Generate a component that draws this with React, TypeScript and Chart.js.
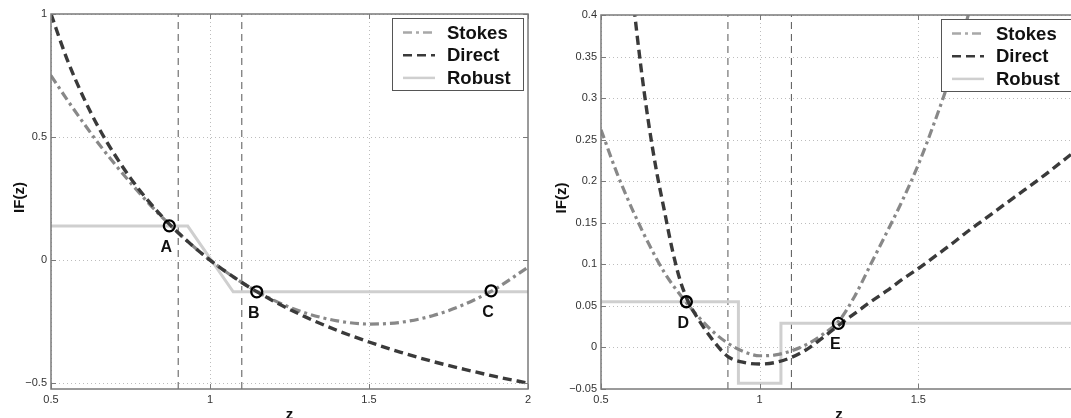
import { useEffect, useRef } from 'react';
import { Chart, registerables } from 'chart.js';

Chart.register(...registerables);

// ---------- shared ----------
const seriesNames = ['Stokes', 'Direct', 'Robust'];
const xTicks = [0.5, 1, 1.5, 2];
const yTicksLeft = [-0.5, 0, 0.5, 1];
const yTicksRight = [-0.05, 0, 0.05, 0.1, 0.15, 0.2, 0.25, 0.3, 0.35, 0.4];
const thresholdZ = [0.9, 1.1];
const xTitle = 'z';
const yTitle = 'IF(z)';

// ---------- left panel ----------
const zLeft = [0.5, 0.55, 0.6, 0.65, 0.7, 0.75, 0.8, 0.85, 0.9, 0.95, 1.0, 1.1, 1.2, 1.3, 1.4, 1.5, 1.6, 1.7, 1.8, 1.9, 2.0];
const stokesLeft = [0.75, 0.653, 0.561, 0.473, 0.391, 0.314, 0.241, 0.173, 0.111, 0.053, 0, -0.091, -0.163, -0.215, -0.247, -0.26, -0.253, -0.226, -0.18, -0.115, -0.029];
const directLeft = [1.0, 0.818, 0.667, 0.538, 0.429, 0.333, 0.25, 0.176, 0.111, 0.053, 0, -0.091, -0.167, -0.231, -0.286, -0.333, -0.375, -0.412, -0.444, -0.474, -0.5];
const robustZLeft = [0.5, 0.93, 1.073, 2.0];
const robustLeft = [0.138, 0.138, -0.129, -0.129];
const markerZLeft = [0.872, 1.147, 1.884];
const markerValLeft = [0.139, -0.129, -0.125];
const markerNamesLeft = ['A', 'B', 'C'];

// ---------- right panel ----------
const stokesZRight = [0.5, 0.55, 0.6, 0.65, 0.7, 0.75, 0.8, 0.85, 0.9, 0.95, 1.0, 1.05, 1.1, 1.15, 1.2, 1.25, 1.3, 1.35, 1.4, 1.45, 1.5, 1.55, 1.6, 1.65, 1.7];
const stokesRight = [0.262, 0.21, 0.165, 0.125, 0.09, 0.063, 0.04, 0.02, 0.005, -0.005, -0.01, -0.009, -0.004, 0.004, 0.016, 0.032, 0.062, 0.1, 0.138, 0.177, 0.22, 0.27, 0.325, 0.39, 0.46];
const directZRight = [0.5, 0.525, 0.55, 0.575, 0.6, 0.625, 0.65, 0.675, 0.7, 0.725, 0.75, 0.775, 0.8, 0.85, 0.9, 0.95, 1.0, 1.05, 1.1, 1.15, 1.2, 1.25, 1.3, 1.35, 1.4, 1.45, 1.5, 1.55, 1.6, 1.65, 1.7, 1.8, 1.9, 2.0];
const directRight = [0.98, 0.799, 0.649, 0.526, 0.424, 0.34, 0.27, 0.212, 0.164, 0.117, 0.08, 0.055, 0.038, 0.01, -0.011, -0.018, -0.02, -0.018, -0.012, -0.002, 0.012, 0.027, 0.041, 0.055, 0.068, 0.082, 0.095, 0.109, 0.123, 0.138, 0.152, 0.18, 0.208, 0.238];
const robustZRight = [0.5, 0.933, 0.933, 1.067, 1.067, 2.0];
const robustRight = [0.055, 0.055, -0.043, -0.043, 0.029, 0.029];
const markerZRight = [0.769, 1.248];
const markerValRight = [0.055, 0.029];
const markerNamesRight = ['D', 'E'];

const H = 418;
const FONT = '"Liberation Sans", Arial, Helvetica, sans-serif';

const STYLE: Record<string, { color: string; dash: number[]; width: number; legendColor: string }> = {
  Stokes: { color: '#888888', dash: [9, 4, 3, 4], width: 3.2, legendColor: '#a8a8a8' },
  Direct: { color: '#3a3a3a', dash: [9, 5], width: 3.4, legendColor: '#3a3a3a' },
  Robust: { color: '#cfcfcf', dash: [], width: 3, legendColor: '#cfcfcf' },
};

type Panel = {
  canvasLeft: number;
  canvasWidth: number;
  area: { left: number; top: number; right: number; bottom: number };
  yMin: number;
  yMax: number;
  yTicks: number[];
  yTitleOffset: number;
  stokes: { z: number[]; v: number[] };
  direct: { z: number[]; v: number[] };
  robust: { z: number[]; v: number[] };
  markers: { z: number[]; v: number[]; names: string[] };
};

const leftPanel: Panel = {
  canvasLeft: 0,
  canvasWidth: 545,
  area: { left: 51, top: 14, right: 528, bottom: 389 },
  yMin: -0.524,
  yMax: 1,
  yTicks: yTicksLeft,
  yTitleOffset: 31,
  stokes: { z: zLeft, v: stokesLeft },
  direct: { z: zLeft, v: directLeft },
  robust: { z: robustZLeft, v: robustLeft },
  markers: { z: markerZLeft, v: markerValLeft, names: markerNamesLeft },
};

const rightPanel: Panel = {
  canvasLeft: 530,
  canvasWidth: 560,
  area: { left: 71, top: 15, right: 547, bottom: 389 },
  yMin: -0.05,
  yMax: 0.4,
  yTicks: yTicksRight,
  yTitleOffset: 39,
  stokes: { z: stokesZRight, v: stokesRight },
  direct: { z: directZRight, v: directRight },
  robust: { z: robustZRight, v: robustRight },
  markers: { z: markerZRight, v: markerValRight, names: markerNamesRight },
};

const pts = (z: number[], v: number[]) => z.map((x, i) => ({ x, y: v[i] }));
const fmt = (v: number) => String(v).replace('-', '\u2212');

function decorPlugin(p: Panel) {
  return {
    id: 'decor',
    beforeDatasetsDraw(chart: any) {
      const { ctx, chartArea: a, scales } = chart;
      const x = scales.x;
      const y = scales.y;
      ctx.save();
      ctx.beginPath();
      ctx.rect(a.left, a.top, a.right - a.left, a.bottom - a.top);
      ctx.clip();
      ctx.strokeStyle = '#bdbdbd';
      ctx.lineWidth = 1;
      ctx.setLineDash([1, 3]);
      for (const v of xTicks) {
        const px = Math.round(x.getPixelForValue(v)) + 0.5;
        ctx.beginPath();
        ctx.moveTo(px, a.top);
        ctx.lineTo(px, a.bottom);
        ctx.stroke();
      }
      for (const v of p.yTicks) {
        const py = Math.round(y.getPixelForValue(v)) + 0.5;
        ctx.beginPath();
        ctx.moveTo(a.left, py);
        ctx.lineTo(a.right, py);
        ctx.stroke();
      }
      ctx.restore();
    },
    afterDatasetsDraw(chart: any) {
      const { ctx, chartArea: a, scales } = chart;
      const x = scales.x;
      const y = scales.y;
      ctx.save();
      // frame
      ctx.setLineDash([]);
      ctx.strokeStyle = '#7a7a7a';
      ctx.lineWidth = 1.5;
      ctx.strokeRect(a.left, a.top, a.right - a.left, a.bottom - a.top);
      // inward ticks
      ctx.lineWidth = 1;
      const tl = 5;
      for (const v of xTicks) {
        const px = Math.round(x.getPixelForValue(v)) + 0.5;
        ctx.beginPath();
        ctx.moveTo(px, a.bottom);
        ctx.lineTo(px, a.bottom - tl);
        ctx.moveTo(px, a.top);
        ctx.lineTo(px, a.top + tl);
        ctx.stroke();
      }
      for (const v of p.yTicks) {
        const py = Math.round(y.getPixelForValue(v)) + 0.5;
        ctx.beginPath();
        ctx.moveTo(a.left, py);
        ctx.lineTo(a.left + tl, py);
        ctx.moveTo(a.right, py);
        ctx.lineTo(a.right - tl, py);
        ctx.stroke();
      }
      // marker labels
      ctx.fillStyle = '#111';
      ctx.font = `bold 16px ${FONT}`;
      ctx.textAlign = 'center';
      ctx.textBaseline = 'middle';
      p.markers.names.forEach((n, i) => {
        const px = x.getPixelForValue(p.markers.z[i]);
        const py = y.getPixelForValue(p.markers.v[i]);
        ctx.fillText(n, px - 3, py + 21.5);
      });
      // legend
      const bw = 131;
      const bh = 72;
      const bx = Math.round(a.right - 5 - bw);
      const by = Math.round(a.top + 4);
      ctx.fillStyle = '#fff';
      ctx.fillRect(bx, by, bw, bh);
      ctx.strokeStyle = '#555';
      ctx.lineWidth = 1;
      ctx.strokeRect(bx + 0.5, by + 0.5, bw, bh);
      seriesNames.forEach((name, i) => {
        const s = STYLE[name];
        const ry = by + 14.5 + i * 22.7;
        ctx.strokeStyle = s.legendColor;
        ctx.lineWidth = 2.5;
        ctx.setLineDash(s.dash);
        ctx.beginPath();
        ctx.moveTo(bx + 11, ry);
        ctx.lineTo(bx + 43, ry);
        ctx.stroke();
        ctx.setLineDash([]);
        ctx.fillStyle = '#111';
        ctx.font = `bold 18.5px ${FONT}`;
        ctx.textAlign = 'left';
        ctx.textBaseline = 'middle';
        ctx.fillText(name, bx + 55, ry + 1);
      });
      // axis titles
      ctx.fillStyle = '#111';
      ctx.font = `bold 15px ${FONT}`;
      ctx.textAlign = 'center';
      ctx.textBaseline = 'alphabetic';
      ctx.fillText(xTitle, (a.left + a.right) / 2, 419);
      ctx.save();
      ctx.translate(a.left - p.yTitleOffset, (a.top + a.bottom) / 2 - 4);
      ctx.rotate(-Math.PI / 2);
      ctx.textBaseline = 'middle';
      ctx.fillText(yTitle, 0, 0);
      ctx.restore();
      ctx.restore();
    },
  };
}

function line(name: string, z: number[], v: number[], smooth: boolean) {
  const s = STYLE[name];
  return {
    label: name,
    data: pts(z, v),
    borderColor: s.color,
    borderWidth: s.width,
    borderDash: s.dash,
    pointRadius: 0,
    fill: false,
    tension: 0,
    cubicInterpolationMode: smooth ? 'monotone' : 'default',
  };
}

function PanelChart({ p }: { p: Panel }) {
  const ref = useRef<HTMLCanvasElement | null>(null);
  useEffect(() => {
    if (!ref.current) return;
    const datasets: any[] = [
      {
        label: 'markers',
        data: pts(p.markers.z, p.markers.v),
        showLine: false,
        pointRadius: 5.5,
        pointBorderWidth: 2.3,
        pointBorderColor: '#000',
        pointBackgroundColor: 'rgba(0,0,0,0)',
      },
      line('Direct', p.direct.z, p.direct.v, true),
      line('Stokes', p.stokes.z, p.stokes.v, true),
      line('Robust', p.robust.z, p.robust.v, false),
      ...thresholdZ.map((t) => ({
        label: 'thr',
        data: [
          { x: t, y: p.yMin },
          { x: t, y: p.yMax },
        ],
        borderColor: '#555',
        borderWidth: 1,
        borderDash: [7, 5],
        pointRadius: 0,
        fill: false,
      })),
    ];
    const tickFont = { family: FONT, size: 11 };
    const chart = new Chart(ref.current, {
      type: 'line',
      data: { datasets },
      options: {
        responsive: false,
        animation: false,
        devicePixelRatio: 1,
        events: [],
        layout: {
          padding: { left: 0, top: p.area.top, right: p.canvasWidth - p.area.right, bottom: 0 },
        },
        plugins: { legend: { display: false }, tooltip: { enabled: false } },
        scales: {
          x: {
            type: 'linear',
            min: 0.5,
            max: 2,
            grid: { display: false, drawTicks: false },
            border: { display: false },
            afterFit: (s: any) => {
              s.height = H - p.area.bottom;
            },
            afterBuildTicks: (s: any) => {
              s.ticks = xTicks.map((v) => ({ value: v }));
            },
            ticks: {
              font: tickFont,
              color: '#333',
              padding: 4,
              maxRotation: 0,
              autoSkip: false,
              callback: (v: any) => fmt(Number(v)),
            },
          },
          y: {
            type: 'linear',
            min: p.yMin,
            max: p.yMax,
            grid: { display: false, drawTicks: false },
            border: { display: false },
            afterFit: (s: any) => {
              s.width = p.area.left;
            },
            afterBuildTicks: (s: any) => {
              s.ticks = p.yTicks.map((v) => ({ value: v }));
            },
            ticks: {
              font: tickFont,
              color: '#333',
              padding: 4,
              autoSkip: false,
              callback: (v: any) => fmt(Number(v)),
            },
          },
        },
      } as any,
      plugins: [decorPlugin(p) as any],
    });
    return () => chart.destroy();
  }, [p]);
  return (
    <canvas
      ref={ref}
      width={p.canvasWidth}
      height={H}
      style={{ position: 'absolute', left: p.canvasLeft, top: 0, width: p.canvasWidth, height: H }}
    />
  );
}

export default function App() {
  return (
    <div
      style={{
        position: 'absolute',
        left: 0,
        top: 0,
        width: 1071,
        height: H,
        overflow: 'hidden',
        background: '#fff',
      }}
    >
      <PanelChart p={leftPanel} />
      <PanelChart p={rightPanel} />
    </div>
  );
}
